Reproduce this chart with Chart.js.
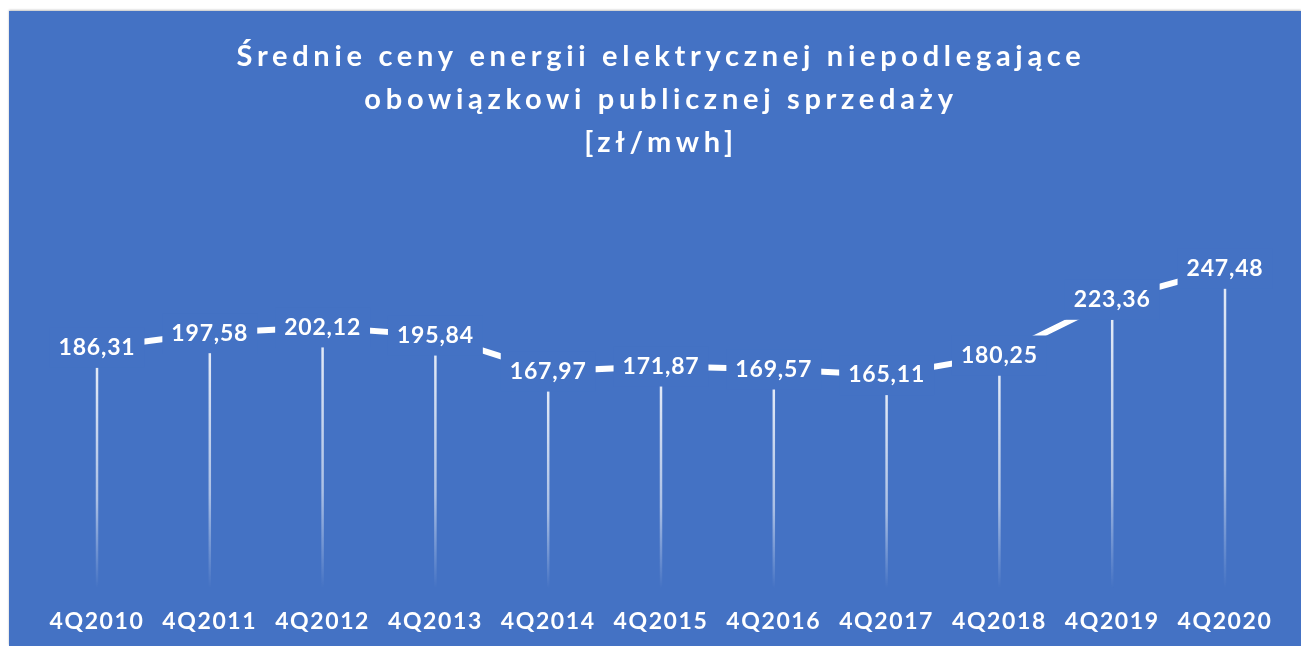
<!DOCTYPE html>
<html>
<head>
<meta charset="utf-8">
<title>Średnie ceny energii elektrycznej</title>
<script src="https://cdn.jsdelivr.net/npm/chart.js@4.4.1/dist/chart.umd.min.js"></script>
<style>
    body {
        margin: 0;
        background: #fff;
    }
    .chart-session {
        position: absolute;
        left: 9px;
        top: 11px;
        width: 1292px;
        height: 635px;
        background: #4472c4;
        box-shadow: 0 -1px 2px rgba(0, 0, 0, 0.25);
    }
</style>
</head>
<body>
<div class="chart-session">
    <canvas id="ceny_graph" width="1292" height="635"></canvas>
</div>
<script>
const quarters = ["4Q2010", "4Q2011", "4Q2012", "4Q2013", "4Q2014", "4Q2015", "4Q2016", "4Q2017", "4Q2018", "4Q2019", "4Q2020"]
const prices = [186.31, 197.58, 202.12, 195.84, 167.97, 171.87, 169.57, 165.11, 180.25, 223.36, 247.48]
const titleLines = ["Średnie ceny energii elektrycznej niepodlegające", "obowiązkowi publicznej sprzedaży", "[zł/mwh]"]

const bgColor = "#4472c4"
const fontName = "Lato, 'Open Sans', sans-serif"

//letter spacing for canvas text (reset on every draw)
let spacingPlugin = {
    id: "spacing",
    afterInit(chart) {
        let title = chart.titleBlock
        let draw = title.draw
        title.draw = function () {
            chart.ctx.save()
            chart.ctx.letterSpacing = "4.7px"
            draw.call(this)
            chart.ctx.restore()
        }
    },
    beforeDraw(chart) {
        chart.ctx.letterSpacing = "1.6px"
    }
}

//drop lines + value labels
let labelPlugin = {
    id: "priceLabels",
    afterDatasetsDraw(chart) {
        let ctx = chart.ctx
        let meta = chart.getDatasetMeta(0)
        let bottom = chart.chartArea.bottom
        ctx.save()
        meta.data.forEach(point => {
            let grad = ctx.createLinearGradient(0, point.y + 20, 0, bottom)
            grad.addColorStop(0, "rgba(255,255,255,0.85)")
            grad.addColorStop(0.6, "rgba(255,255,255,0.55)")
            grad.addColorStop(1, "rgba(255,255,255,0)")
            ctx.strokeStyle = grad
            ctx.lineWidth = 2.5
            ctx.beginPath()
            ctx.moveTo(point.x, point.y + 20)
            ctx.lineTo(point.x, bottom)
            ctx.stroke()
        })
        ctx.font = "bold 23px " + fontName
        ctx.letterSpacing = "0.8px"
        ctx.textAlign = "center"
        ctx.textBaseline = "middle"
        meta.data.forEach((point, i) => {
            let text = prices[i].toFixed(2).replace(".", ",")
            let w = ctx.measureText(text).width + 18
            ctx.fillStyle = bgColor
            ctx.fillRect(point.x - w / 2, point.y - 20, w, 40)
            ctx.fillStyle = "#fff"
            ctx.fillText(text, point.x, point.y)
        })
        ctx.restore()
    }
}

new Chart("ceny_graph", {
    type: "line",
    data: {
        labels: quarters,
        datasets: [{
            data: prices,
            borderColor: "#fff",
            borderWidth: 6,
            pointRadius: 0,
            pointHoverRadius: 0,
            tension: 0
        }]
    },
    options: {
        responsive: false,
        animation: false,
        events: [],
        layout: {
            padding: { left: 88, right: 76, top: 0, bottom: 0 }
        },
        plugins: {
            legend: { display: false },
            tooltip: { enabled: false },
            title: {
                display: true,
                text: titleLines,
                color: "#fff",
                font: { family: fontName, size: 29, weight: "bold", lineHeight: 1.48 },
                padding: { top: 24, bottom: 37 }
            }
        },
        scales: {
            x: {
                grid: { display: false },
                border: { display: false },
                ticks: {
                    color: "#fff",
                    autoSkip: false,
                    maxRotation: 0,
                    padding: 11,
                    font: { family: fontName, size: 23, weight: "bold" }
                }
            },
            y: {
                display: false,
                min: 0,
                max: 300
            }
        }
    },
    plugins: [spacingPlugin, labelPlugin]
})
</script>
</body>
</html>
